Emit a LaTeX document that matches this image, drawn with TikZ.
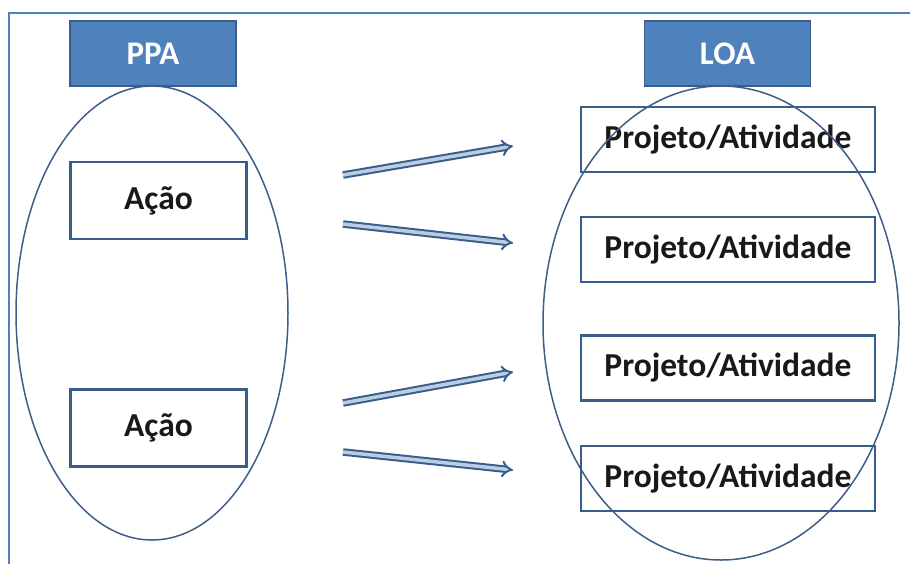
\documentclass[tikz,border=0pt]{standalone}
\usepackage{fontspec}
\setmainfont{Carlito}
\usepackage{xcolor}
\usetikzlibrary{arrows}
\definecolor{titleblue}{HTML}{4F81BD}
\definecolor{edgeblue}{HTML}{385D8A}
\definecolor{ringblue}{HTML}{3E5E88}
\definecolor{shaftblue}{HTML}{B9CDE5}

\begin{document}
\begin{tikzpicture}[x=1pt,y=-1pt,
  titlebox/.style={draw=edgeblue,fill=titleblue,line width=1.5pt,text=white,
    font=\bfseries\fontsize{33}{33}\selectfont,minimum width=166pt,minimum height=65pt,inner sep=0pt},
  itembox/.style={draw=edgeblue,fill=white,line width=2.5pt,text=black!90,
    font=\bfseries\fontsize{33.5}{33.5}\selectfont,inner sep=0pt},
  flow/.style={draw=edgeblue,double=shaftblue,double distance=3.5pt,line width=2pt,-implies}]
\useasboundingbox (0,0) rectangle (910,563);
\clip (0,0) rectangle (910,563);
%% frame
\draw [titleblue,line width=2pt] (9,600) -- (9,13) -- (950,13);

\node [titlebox] (ppa) at (153,53.5) {PPA};
\node [titlebox] (loa) at (727.5,53.5) {LOA};

\foreach \y/\name in {200.5/acao1, 428/acao2}
    \node [itembox,minimum width=176pt,minimum height=77pt] (\name) at (158.5,\y) {Ação};
\foreach \y/\name in {139.5/proj1, 249.5/proj2, 368/proj3, 478.5/proj4}
    \node [itembox,minimum width=294pt,minimum height=65pt] (\name) at (728,\y) {Projeto/Atividade};

\draw [ringblue,line width=1.5pt] (152,313) ellipse (136 and 227);
\draw [ringblue,line width=1.5pt] (721,323) ellipse (178 and 237);

\foreach \i/\ys/\ye in {1/175/146, 2/224/243, 3/403/372, 4/452/470}{
    \coordinate (from\i) at (343,\ys);
    \coordinate (to\i) at (513,\ye);
    \draw [flow] (from\i) -- (to\i);
}
\end{tikzpicture}
\end{document}
